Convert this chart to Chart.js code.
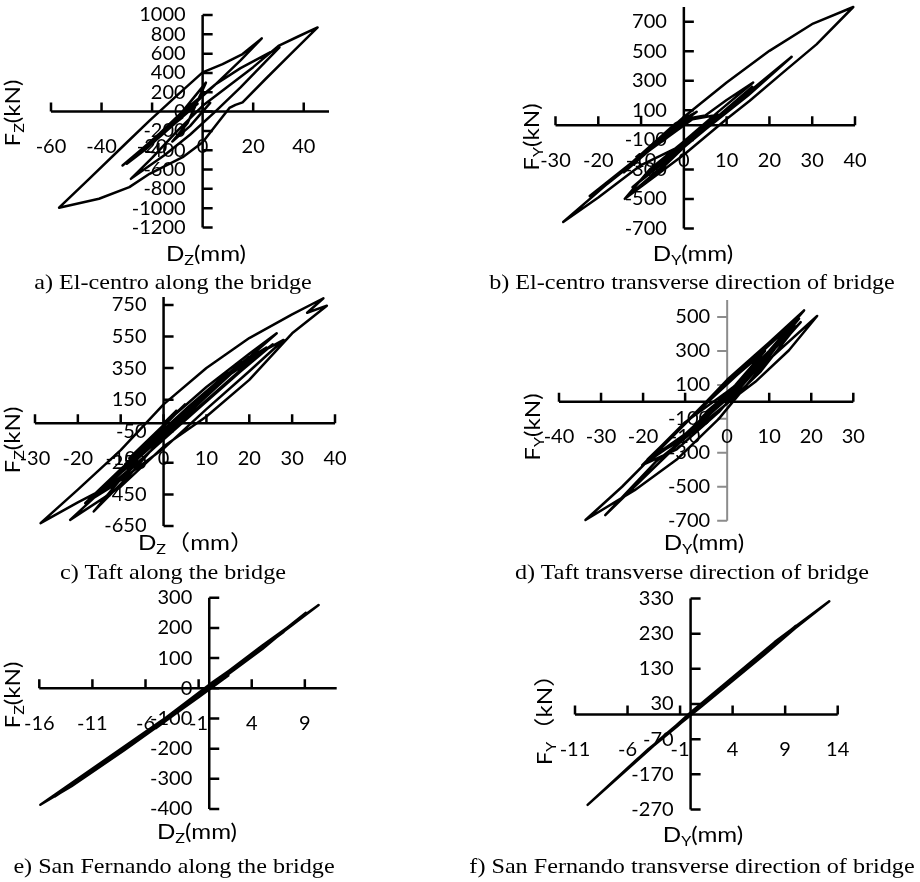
<!DOCTYPE html>
<html>
<head>
<meta charset="utf-8">
<title>Hysteresis curves</title>
<script src="https://cdn.jsdelivr.net/npm/chart.js@4.4.1/dist/chart.umd.min.js"></script>
<style>
  body { margin: 0; background: #fff; }
  #page { position: relative; width: 920px; height: 882px; overflow: hidden; }
  #page canvas { position: absolute; left: 0; top: 0; }
  .cap {
    position: absolute;
    font-family: "Liberation Serif", "Times New Roman", serif;
    font-size: 21px;
    white-space: nowrap;
    color: #000;
    transform: translate(-50%, -50%) scaleX(1.15);
  }
</style>
</head>
<body>
<div id="page">
  <canvas id="chartA" width="920" height="882"></canvas>
  <canvas id="chartB" width="920" height="882"></canvas>
  <canvas id="chartC" width="920" height="882"></canvas>
  <canvas id="chartD" width="920" height="882"></canvas>
  <canvas id="chartE" width="920" height="882"></canvas>
  <canvas id="chartF" width="920" height="882"></canvas>
  <div class="cap" style="left:173px;top:282px">a) El-centro along the bridge</div>
  <div class="cap" style="left:692px;top:282px">b) El-centro transverse direction of bridge</div>
  <div class="cap" style="left:173px;top:572px">c) Taft along the bridge</div>
  <div class="cap" style="left:692px;top:572px">d) Taft transverse direction of bridge</div>
  <div class="cap" style="left:174px;top:866px">e) San Fernando along the bridge</div>
  <div class="cap" style="left:692px;top:866px">f) San Fernando transverse direction of bridge</div>
</div>
<script>
// a) El-centro, along the bridge: displacement (mm) / force (kN)
const dispA = [0, 3, -5, -12, -6, 1.3, -8, -20, -31.7, -25, -15, -5, 5, 15, 25, 30.4, 25, 15, 5, -5, -15, -28.4,
  -20, -10, 0, 10, 20, 30, 38, 45.5, 35, 25, 15.8, 13, 10.6, 5, 0, -7.9, -21, -29, -41, -56.8,
  -45, -30, -21, -10, 0, 7.9, 15.8, 23.4, 15, 5, 0, -10, -20, -30,
  -22, -12, -4, -10, -20, -29, -20, -10, -2, -8, -18, -26, -15, -8];
const forceA = [0, 90, -150, -310, -120, 300, 0, -300, -558, -410, -180, 60, 280, 450, 590, 665, 520, 250, 0, -240, -450, -696,
  -480, -200, 60, 260, 460, 680, 780, 871, 600, 340, 96, 70, 38, -150, -317, -472, -644, -782, -902, -995,
  -700, -320, -93, 170, 406, 492, 596, 758, 530, 280, 160, -90, -330, -540,
  -380, -140, 60, -80, -320, -520, -330, -100, 80, -40, -280, -450, -200, -60];
const ticksAX = [-60, -40, -20, 0, 20, 40];
const ticksAY = [1000, 800, 600, 400, 200, 0, -200, -400, -600, -800, -1000, -1200];

// b) El-centro, transverse direction
const dispB = [0, 2, -5, 0, 3, 5, 10, 16.2, 8, 0, -8, -13.8, -5, 5, 15, 25.2, 15, 5, 0, -10, -20, -28.2,
  -20, -10, 0, 10, 20, 30.2, 39.6, 31, 23.2, 15.4, 10, 0, -13.8,
  -5, 0, 5, 10, 16, 8, 0, -8, -12, -4, 4, 8, 2, -8, -18, -22, -12, -2, 3, -4, -14, -6, 0];
const forceB = [0, 50, -110, 40, 55, 65, 170, 289, 90, -110, -300, -499, -280, -20, 220, 463, 200, -30, -130, -270, -490, -656,
  -450, -200, 55, 289, 503, 688, 800, 547, 357, 165, 42, -200, -499,
  -290, -150, -30, 100, 260, 60, -140, -330, -420, -220, -20, 70, 40, -170, -400, -480, -250, 10, 90, -60, -320, -120, 10];
const ticksBX = [-30, -20, -10, 0, 10, 20, 30, 40];
const ticksBY = [700, 500, 300, 100, -100, -300, -500, -700];

// c) Taft, along the bridge
const dispC = [0, 3, -4, 5, -8, 2, 10, 20, 26.4, 15, 5, -5, -16.3, -8, 0, 10, 20, 28, 20, 10, 0, -10, -20, -28.7,
  -20, -10, 0, 10, 20, 30, 37.3, 33.5, 38.1, 30, 20, 10, 0, -10, -21.8,
  -15, -5, 5, 15, 22, 25.5, 18, 8, -2, -12, -18.3, -10, 0, 10, 18, 24, 16, 6, -4, -14, -17,
  -8, 2, 12, 20, 12, 2, -8, -13, -4, 6, 15, 8, -2, -9, 0];
const forceC = [0, 80, -130, 120, -220, 40, 230, 440, 570, 300, 50, -190, -558, -330, -80, 190, 410, 528, 330, 90, -160, -360, -500, -632,
  -420, -170, 120, 350, 540, 690, 792, 700, 745, 570, 275, 43, -147, -401, -611,
  -440, -190, 60, 300, 430, 500, 330, 90, -150, -400, -505, -290, -40, 200, 380, 480, 290, 50, -200, -430, -480,
  -250, 0, 250, 420, 220, -30, -270, -380, -140, 110, 320, 150, -90, -260, -30];
const ticksCX = [-30, -20, -10, 0, 10, 20, 30, 40];
const ticksCY = [750, 550, 350, 150, -50, -250, -450, -650];

// d) Taft, transverse direction
const dispD = [0, 3, -5, 5, -10, 2, 10, 17.1, 8, -2, -12, -20.2, -10, 0, 10, 16, 8, -2, -12, -22, -33.7,
  -25, -15, -5, 0, 10, 18.3, 10, 0, -10, -20.2, -10, 0, 10, 21.4, 14.7, 6.7, 0.4, -9.1, -17, -29,
  -20, -10, 0, 8, 15, 17.5, 10, 0, -10, -18, -8, 2, 12, 16, 8, -2, -12, -19, -9, 1, 9, 2, -6, -3];
const forceD = [0, 80, -60, 150, -200, 60, 300, 490, 220, -60, -280, -373, -130, 120, 340, 470, 200, -100, -340, -520, -696,
  -500, -250, 0, 130, 350, 539, 300, 50, -200, -373, -120, 60, 250, 506, 304, 118, 0, -196, -353, -667,
  -450, -210, -10, 180, 400, 470, 280, 40, -190, -330, -80, 150, 380, 450, 240, -10, -240, -340, -100, 130, 300, 100, -90, -20];
const ticksDX = [-40, -30, -20, -10, 0, 10, 20, 30];
const ticksDY = [500, 300, 100, -100, -300, -500, -700];

// e) San Fernando, along the bridge
const dispE = [0, 1.8, -1, -8, -13, -15.9, -10, -4, 0, 5, 9.1, 5, 0, -5, -1, 4, 10.3, 5, 0, -6, -12, -14.5,
  -8, -2, 3, 7, 2, -3, 1.8, 0];
const forceE = [0, 42, -30, -205, -325, -386, -242, -95, 12, 135, 250, 130, 0, -132, -28, 108, 276, 142, 8, -150, -300, -358,
  -196, -46, 82, 186, 56, -74, 46, 2];
const ticksEX = [-16, -11, -6, -1, 4, 9];
const ticksEY = [300, 200, 100, 0, -100, -200, -300, -400];

// f) San Fernando, transverse direction
const dispF = [0, 3, -1.3, -5, -9.8, -4, 0, 8, 13.2, 6, 0, -3, 2, 10, 4, 0, -2, 5, 11, 7, 1, -4, -7, -2, 1];
const forceF = [0, 80, -34, -125, -257, -102, 6, 206, 322, 152, 2, -72, 54, 252, 102, -2, -50, 130, 272, 170, 22, -98, -180, -48, 28];
const ticksFX = [-11, -6, -1, 4, 9, 14];
const ticksFY = [330, 230, 130, 30, -70, -170, -270];

const W = 920, H = 882;
const bigFont = '21px Lato, "Noto Sans CJK SC", sans-serif';
const subFont = '14px Lato, sans-serif';
const stretch = 1.15;

function pairUp(xs, ys) {
  return xs.map((v, i) => ({ x: v, y: ys[i] }));
}

// axis title like "F" + subscript "Z" + "(kN)", centred on pos
function drawTitle(ctx, parts, pos, vertical) {
  ctx.font = bigFont;
  const w1 = ctx.measureText(parts[0]).width;
  const w3 = ctx.measureText(parts[2]).width;
  ctx.font = subFont;
  const w2 = ctx.measureText(parts[1]).width;
  const total = w1 + w2 + w3;
  ctx.save();
  ctx.translate(pos[0], pos[1]);
  if (vertical) ctx.rotate(-Math.PI / 2);
  ctx.scale(stretch, 1);
  ctx.textAlign = 'left';
  ctx.textBaseline = 'alphabetic';
  let x = -total / 2;
  const base = 7;
  ctx.font = bigFont;
  ctx.fillText(parts[0], x, base);
  x += w1;
  ctx.font = subFont;
  ctx.fillText(parts[1], x, base + 4);
  x += w2;
  ctx.font = bigFont;
  ctx.fillText(parts[2], x, base);
  ctx.restore();
}

// axes crossing at the origin, ticks and labels next to them
const crossAxes = {
  id: 'crossAxes',
  beforeDatasetsDraw(chart, args, o) {
    const ctx = chart.ctx;
    const sx = chart.scales.x, sy = chart.scales.y;
    const x0 = sx.getPixelForValue(0), y0 = sy.getPixelForValue(0);
    ctx.save();
    ctx.lineCap = 'butt';

    ctx.strokeStyle = '#000';
    ctx.lineWidth = 2.5;
    ctx.beginPath();
    ctx.moveTo(sx.left, y0);
    ctx.lineTo(sx.right, y0);
    o.xTicks.forEach(v => {
      const px = sx.getPixelForValue(v);
      ctx.moveTo(px, y0);
      ctx.lineTo(px, y0 - 9);
    });
    ctx.stroke();

    ctx.strokeStyle = o.yColor || '#000';
    ctx.lineWidth = o.yWidth || 2.5;
    ctx.beginPath();
    ctx.moveTo(x0, sy.top);
    ctx.lineTo(x0, sy.bottom);
    const dir = o.yTickSide === 'left' ? -1 : 1;
    o.yTicks.forEach(v => {
      const py = sy.getPixelForValue(v);
      ctx.moveTo(x0, py);
      ctx.lineTo(x0 + dir * 10, py);
    });
    ctx.stroke();

    ctx.fillStyle = '#000';
    ctx.font = '20px Lato, sans-serif';
    ctx.textBaseline = 'middle';
    ctx.textAlign = 'center';
    o.xTicks.forEach(v => ctx.fillText(String(v), sx.getPixelForValue(v), y0 + 35));
    ctx.textAlign = 'right';
    o.yTicks.forEach(v => ctx.fillText(String(v), x0 - 17, sy.getPixelForValue(v)));

    drawTitle(ctx, o.yTitle, o.yTitlePos, true);
    drawTitle(ctx, o.xTitle, o.xTitlePos, false);
    ctx.restore();
  }
};

function makePanel(id, area, xRange, yRange, xs, ys, axisOpts) {
  new Chart(document.getElementById(id), {
    type: 'scatter',
    data: {
      datasets: [{
        data: pairUp(xs, ys),
        showLine: true,
        borderColor: '#000',
        borderWidth: 2.5,
        pointRadius: 0,
        tension: 0,
        fill: false,
        clip: false
      }]
    },
    options: {
      responsive: false,
      animation: false,
      events: [],
      layout: {
        padding: { left: area[0], top: area[1], right: W - area[2], bottom: H - area[3] }
      },
      scales: {
        x: { type: 'linear', display: false, min: xRange[0], max: xRange[1] },
        y: { type: 'linear', display: false, min: yRange[0], max: yRange[1] }
      },
      elements: { line: { borderJoinStyle: 'round', borderCapStyle: 'round' } },
      plugins: {
        legend: { display: false },
        tooltip: { enabled: false },
        crossAxes: axisOpts
      }
    },
    plugins: [crossAxes]
  });
}

makePanel('chartA', [51, 15, 329, 227.5], [-60, 50], [-1200, 1000], dispA, forceA, {
  xTicks: ticksAX, yTicks: ticksAY,
  yTitle: ['F', 'Z', '(kN)'], yTitlePos: [13, 113],
  xTitle: ['D', 'Z', '(mm)'], xTitlePos: [206, 254]
});

makePanel('chartB', [555.5, 7, 855, 228.5], [-30, 40], [-700, 800], dispB, forceB, {
  xTicks: ticksBX, yTicks: ticksBY,
  yTitle: ['F', 'Y', '(kN)'], yTitlePos: [532, 137],
  xTitle: ['D', 'Y', '(mm)'], xTitlePos: [693, 254]
});

makePanel('chartC', [35, 297, 335, 526], [-30, 40], [-650, 800], dispC, forceC, {
  xTicks: ticksCX, yTicks: ticksCY,
  yTitle: ['F', 'Z', '(kN)'], yTitlePos: [13, 440],
  xTitle: ['D', 'Z', '\uFF08mm\uFF09'], xTitlePos: [196, 543]
});

makePanel('chartD', [559, 300, 853.3, 520.7], [-40, 30], [-700, 600], dispD, forceD, {
  xTicks: ticksDX, yTicks: ticksDY,
  yColor: '#8c8c8c', yWidth: 2, yTickSide: 'left',
  yTitle: ['F', 'Y', '(kN)'], yTitlePos: [533, 427],
  xTitle: ['D', 'Y', '(mm)'], xTitlePos: [704, 543]
});

makePanel('chartE', [39.3, 597.7, 336.7, 809], [-16, 12], [-400, 300], dispE, forceE, {
  xTicks: ticksEX, yTicks: ticksEY,
  yTitle: ['F', 'Z', '(kN)'], yTitlePos: [13, 695],
  xTitle: ['D', 'Z', '(mm)'], xTitlePos: [197, 832]
});

makePanel('chartF', [575, 598.5, 837.7, 809.5], [-11, 14], [-270, 330], dispF, forceF, {
  xTicks: ticksFX, yTicks: ticksFY,
  yTitle: ['F', 'Y', '\uFF08kN\uFF09'], yTitlePos: [545, 714],
  xTitle: ['D', 'Y', '(mm)'], xTitlePos: [703, 835]
});
</script>
</body>
</html>
